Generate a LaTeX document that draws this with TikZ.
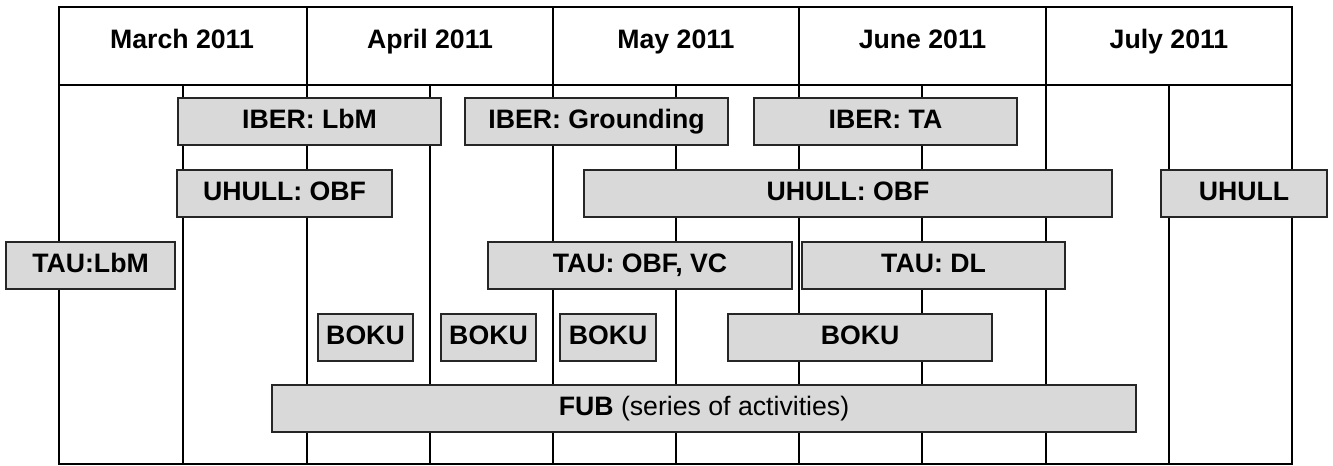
\documentclass[tikz,border=0pt]{standalone}
\usepackage{fontspec}
\setmainfont{Liberation Sans}
\definecolor{barfill}{RGB}{217,217,217}
\tikzset{
    gridline/.style={line width=1.5pt},
    bar/.style={draw=black!85, line width=1pt, fill=barfill},
    lbl/.style={anchor=base, inner sep=0pt, font=\bfseries\fontsize{20}{24}\selectfont},
}

\begin{document}
\begin{tikzpicture}[x=0.75pt, y=-0.75pt]
    \useasboundingbox (0,0) rectangle (1333,465);

    % Table frame
    \draw[gridline] (59,7) rectangle (1292,464);
    \draw[gridline] (59,85) -- (1292,85);
    \foreach \x in {307,553,799,1046}
        \draw[gridline] (\x,7) -- (\x,464);
    \foreach \x in {183,430,676,922,1169}
        \draw[gridline] (\x,85) -- (\x,464);

    % Months
    \node[lbl] (march) at (182,48) {March 2011};
    \node[lbl] (april) at (430,48) {April 2011};
    \node[lbl] (may) at (676,48) {May 2011};
    \node[lbl] (june) at (922.5,48) {June 2011};
    \node[lbl] (july) at (1169,48) {July 2011};

    % IBER
    \draw[bar] (178,98) rectangle (441,145);
    \node[lbl] (iberlbm) at (309.5,128) {IBER: LbM};
    \draw[bar] (465,98) rectangle (728,145);
    \node[lbl] (ibergrd) at (596.5,128) {IBER: Grounding};
    \draw[bar] (754,98) rectangle (1017,145);
    \node[lbl] (iberta) at (885.5,128) {IBER: TA};

    % UHULL
    \draw[bar] (177,170) rectangle (392,217);
    \node[lbl] (uhullA) at (284.5,200) {UHULL: OBF};
    \draw[bar] (584,170) rectangle (1112,217);
    \node[lbl] (uhullB) at (848,200) {UHULL: OBF};
    \draw[bar] (1161,170) rectangle (1327,217);
    \node[lbl] (uhullC) at (1244,200) {UHULL};

    % TAU
    \draw[bar] (6,242) rectangle (175,289);
    \node[lbl] (taulbm) at (90.5,272) {TAU:LbM};
    \draw[bar] (488,242) rectangle (792,289);
    \node[lbl] (tauobf) at (640,272) {TAU: OBF, VC};
    \draw[bar] (802,242) rectangle (1065,289);
    \node[lbl] (taudl) at (933.5,272) {TAU: DL};

    % BOKU
    \draw[bar] (318,314) rectangle (413,361);
    \node[lbl] (bokuA) at (365.5,344) {BOKU};
    \draw[bar] (441,314) rectangle (536,361);
    \node[lbl] (bokuB) at (488.5,344) {BOKU};
    \draw[bar] (560,314) rectangle (656,361);
    \node[lbl] (bokuC) at (608,344) {BOKU};
    \draw[bar] (728,314) rectangle (992,361);
    \node[lbl] (bokuD) at (860,344) {BOKU};

    % FUB
    \draw[bar] (272,385) rectangle (1136,432);
    \node[lbl] (fub) at (704,415) {FUB \mdseries(series of activities)};
\end{tikzpicture}
\end{document}
